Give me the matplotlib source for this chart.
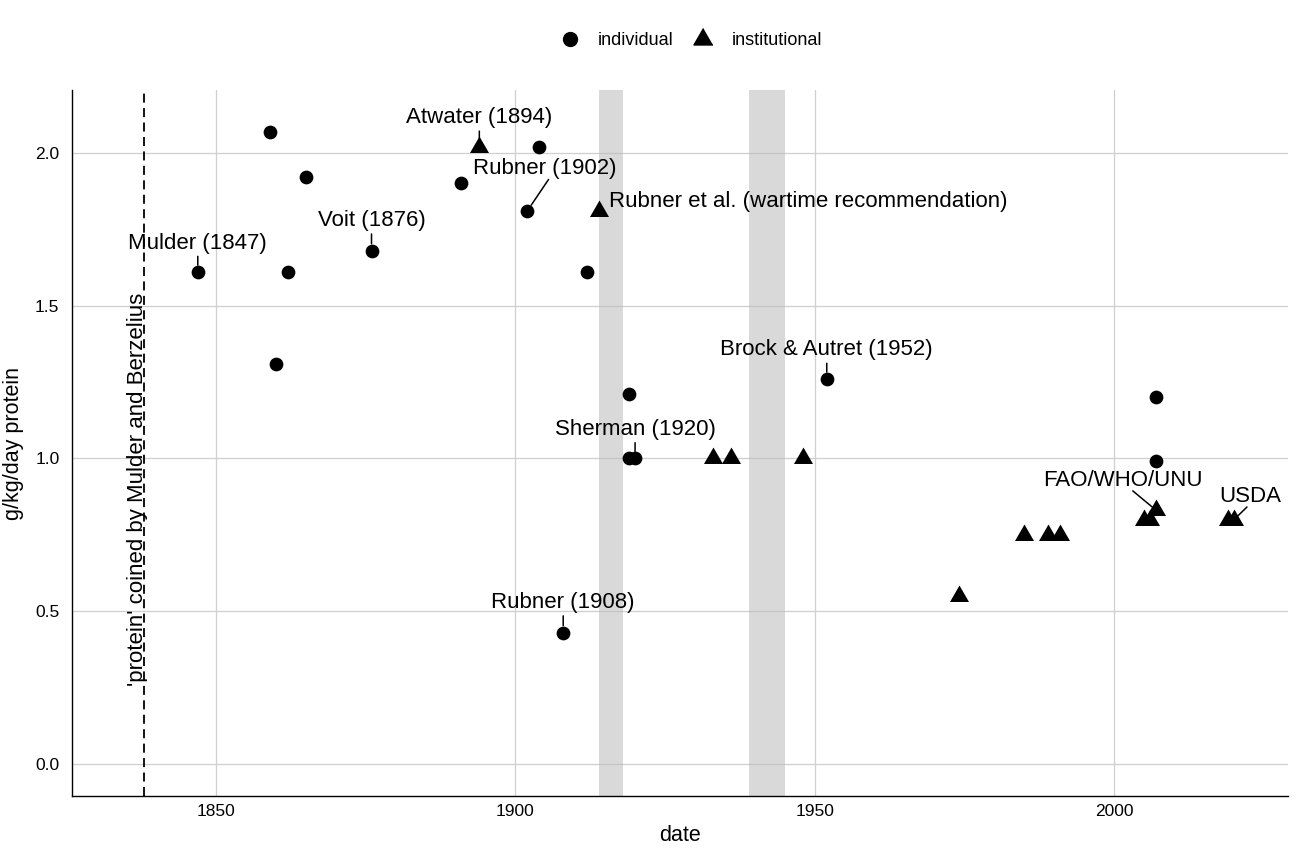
import matplotlib
matplotlib.use('Agg')
from matplotlib import pyplot as plt
from matplotlib.lines import Line2D

plt.rcParams['font.family'] = ['Liberation Sans', 'DejaVu Sans']

# individual recommendations (circles)
ind_year = [1847, 1859, 1860, 1862, 1865, 1876, 1891, 1902, 1904, 1908, 1912,
            1919, 1919, 1920, 1952, 2007, 2007]
ind_value = [1.61, 2.07, 1.31, 1.61, 1.92, 1.68, 1.90, 1.81, 2.02, 0.43, 1.61,
             1.21, 1.00, 1.00, 1.26, 1.20, 0.99]

# institutional recommendations (triangles)
inst_year = [1894, 1914, 1933, 1936, 1948, 1974, 1985, 1989, 1991, 2005, 2006,
             2007, 2019, 2020]
inst_value = [2.02, 1.81, 1.00, 1.00, 1.00, 0.55, 0.75, 0.75, 0.75, 0.80, 0.80,
              0.83, 0.80, 0.80]

# labelled points
label_text = ['Mulder (1847)', 'Voit (1876)', 'Atwater (1894)', 'Rubner (1902)',
              'Rubner et al. (wartime recommendation)', 'Rubner (1908)',
              'Sherman (1920)', 'Brock & Autret (1952)', 'FAO/WHO/UNU', 'USDA']
label_year = [1847, 1876, 1894, 1902, 1914, 1908, 1920, 1952, 2007, 2020]
label_value = [1.61, 1.68, 2.02, 1.81, 1.81, 0.43, 1.00, 1.26, 0.83, 0.80]

# wars
war_start = [1914, 1939]
war_end = [1918, 1945]
coined_year = 1838
coined_text = "'protein' coined by Mulder and Berzelius"

x_ticks = [1850, 1900, 1950, 2000]
y_ticks = [0.0, 0.5, 1.0, 1.5, 2.0]

# label placement (pixel offsets from point, alignment, segment start / shrink)
label_dx = [0, 0, 0, 17, 10, 0, 0, 0, -33, 16]
label_dy = [29, 30, 29, 42, 9, 30, 29, 29, 30, 23]
label_ha = ['center'] * 4 + ['left'] + ['center'] * 5
label_seg = [True, True, True, True, False, True, True, True, True, True]
label_relpos = [(0.5, 0.5)] * 3 + [(0.53, 0.0)] + [(0.5, 0.5)] * 4 + [(0.56, 0.0), (0.45, 0.0)]
label_shrink = [5, 5, 6, 5, 0, 5, 5, 5, 2, 1]

tri = [(0, 1.155), (-1, -0.577), (1, -0.577)]

fig = plt.figure(figsize=(13, 8.6), dpi=100)
ax = fig.add_axes([72 / 1300, 1 - 796 / 860, (1288 - 72) / 1300, (796 - 90) / 860])

for s, e in zip(war_start, war_end):
    ax.axvspan(s, e, color='#bbbbbb', alpha=0.55, lw=0, zorder=1)

ax.axvline(coined_year, color='black', lw=1.3, linestyle=(0, (5, 3)), zorder=2)
ax.annotate(coined_text, xy=(coined_year, 0.9), xytext=(4, 0),
            textcoords='offset pixels', rotation=90, ha='right', va='center',
            fontsize=16, zorder=3)

ax.scatter(ind_year, ind_value, marker='o', s=98, color='black', lw=0, zorder=4)
ax.scatter(inst_year, inst_value, marker=tri, s=250, color='black', lw=0, zorder=4)

for i, txt in enumerate(label_text):
    props = None
    if label_seg[i]:
        props = dict(arrowstyle='-', color='black', lw=1.1, shrinkA=0,
                     shrinkB=label_shrink[i], relpos=label_relpos[i])
        if label_relpos[i][1] == 0.0:
            props['patchA'] = None
    ax.annotate(txt, xy=(label_year[i], label_value[i]),
                xytext=(label_dx[i], label_dy[i]), textcoords='offset pixels',
                ha=label_ha[i], va='center', fontsize=16, arrowprops=props, zorder=5)

ax.set_xlim(1826, 2029)
ax.set_ylim(-0.105, 2.206)
ax.set_xticks(x_ticks)
ax.set_yticks(y_ticks)
ax.set_yticklabels(['%.1f' % v for v in y_ticks])
ax.tick_params(length=0, labelsize=12.5, colors='black')
ax.tick_params(axis='x', pad=6)
ax.tick_params(axis='y', pad=9)
ax.grid(True, color='#cfcfcf', lw=0.9, zorder=0)
ax.set_axisbelow(True)
for side in ['top', 'right']:
    ax.spines[side].set_visible(False)
for side in ['left', 'bottom']:
    ax.spines[side].set_color('black')
    ax.spines[side].set_linewidth(1.0)

ax.set_xlabel('date', fontsize=15.5, labelpad=4)
ax.set_ylabel('g/kg/day protein', fontsize=15.5, labelpad=8)

handles = [Line2D([], [], marker='o', color='black', linestyle='none', markersize=10),
           Line2D([], [], marker=tri, color='black', linestyle='none', markersize=15.8)]
fig.legend(handles, ['individual', 'institutional'], loc='center',
           bbox_to_anchor=(0.53, 0.953), ncol=2, frameon=False, fontsize=13,
           handletextpad=0.8, columnspacing=0.9, handlelength=1.5)

fig.savefig('out.png', dpi=100)
